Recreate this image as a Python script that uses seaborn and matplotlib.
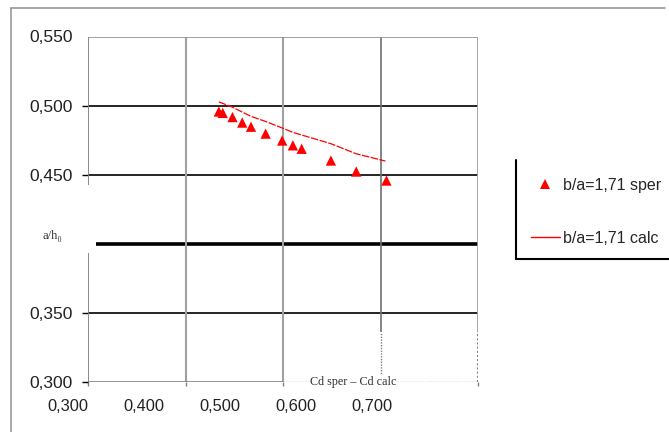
"""Recreate the scanned a/h0 vs Cd chart (b/a = 1,71)."""
import matplotlib
matplotlib.use("Agg")
import matplotlib.pyplot as plt
import pandas as pd
import seaborn as sns
from matplotlib.lines import Line2D

# measured points (b/a = 1,71 sper)
cd_sper = [0.434, 0.438, 0.448, 0.458, 0.467, 0.482, 0.499, 0.510, 0.519, 0.549, 0.575, 0.606]
ah_sper = [0.496, 0.495, 0.492, 0.488, 0.485, 0.480, 0.475, 0.4715, 0.469, 0.4605, 0.4525, 0.446]

# calculated curve (b/a = 1,71 calc)
cd_calc = [0.434, 0.4475, 0.467, 0.482, 0.499, 0.510, 0.549, 0.575, 0.605]
ah_calc = [0.503, 0.4993, 0.4925, 0.4888, 0.4841, 0.4809, 0.4727, 0.4654, 0.4601]

x_ticks = [0.3, 0.4, 0.5, 0.6, 0.7]
x_labels = ["0,300", "0,400", "0,500", "0,600", "0,700"]
y_ticks = [0.30, 0.35, 0.45, 0.50]
y_labels = ["0,300", "0,350", "0,450", "0,500"]
series_labels = ["b/a=1,71 sper", "b/a=1,71 calc"]

GRID_GREY = "#808080"
LIGHT_GREY = "#a0a0a0"
SANS = ["Liberation Sans", "DejaVu Sans"]
SERIF = ["Liberation Serif", "DejaVu Serif"]


def main() -> None:
    sns.set_theme(style="white")
    plt.rcParams["font.family"] = SANS

    sper = pd.DataFrame({"cd": cd_sper, "ah": ah_sper})
    calc = pd.DataFrame({"cd": cd_calc, "ah": ah_calc})

    fig = plt.figure(figsize=(6.69, 4.32), dpi=100)

    # x tick labels sit offset from the ticks in the scan: separate label strip
    lab = fig.add_axes([68 / 669, 0.1157, 304 / 669, 0.01])
    lab.set_xlim(0.3, 0.7)
    lab.patch.set_visible(False)
    lab.set_yticks([])
    for sp in lab.spines.values():
        sp.set_visible(False)
    lab.set_xticks(x_ticks)
    lab.set_xticklabels(x_labels, fontsize=11.8, color="#222222")
    lab.tick_params(axis="x", bottom=True, length=0, pad=12.5)

    ax = fig.add_axes([0.132, 0.1157, 0.5825, 0.7986])
    ax.set_xlim(0.3, 0.7)
    ax.set_ylim(0.3, 0.55)
    ax.patch.set_visible(False)
    for sp in ax.spines.values():
        sp.set_visible(False)

    # grid / frame pieces, as in the scanned original
    for y in (0.5, 0.45, 0.35):
        ax.axhline(y, color="black", lw=1.2, zorder=1)
    ax.hlines(0.4, 0.3079, 0.7, color="black", lw=2.6, zorder=1)
    ax.axvline(0.4, color=LIGHT_GREY, lw=1.5, zorder=1)
    ax.axvline(0.5, color=LIGHT_GREY, lw=1.5, zorder=1)
    ax.vlines(0.6, 0.336, 0.55, color="#707070", lw=1.2, zorder=1)
    ax.vlines(0.6, 0.3, 0.336, color=GRID_GREY, lw=1.0, ls=(0, (1, 1)), zorder=1)
    ax.vlines(0.7, 0.336, 0.55, color=LIGHT_GREY, lw=2.0, zorder=1)
    ax.vlines(0.7, 0.3, 0.336, color=GRID_GREY, lw=1.5, ls=(0, (1, 1)), zorder=1)
    ax.hlines(0.55, 0.3, 0.7, color="#909090", lw=1.2, zorder=1)
    ax.vlines(0.3, 0.443, 0.55, color=GRID_GREY, lw=1.3, zorder=1)
    ax.vlines(0.3, 0.3, 0.3937, color=GRID_GREY, lw=1.3, zorder=1)
    ax.hlines(0.3, 0.3, 0.5, color=GRID_GREY, lw=1.2, zorder=1)
    ax.hlines(0.3, 0.5, 0.7, color=GRID_GREY, lw=1.0, ls=(0, (1, 1)), zorder=1)

    sns.lineplot(data=calc, x="cd", y="ah", ax=ax, color="red", lw=0.9,
                 linestyle=(0, (6, 1.2)), sort=False, zorder=3)
    sns.scatterplot(data=sper, x="cd", y="ah", ax=ax, color="red", marker="^",
                    s=55, edgecolor="none", zorder=4)
    ax.set_xlabel("")
    ax.set_ylabel("")

    ax.set_yticks(y_ticks)
    ax.set_yticklabels(y_labels, fontsize=12.5, color="#222222")
    ax.tick_params(axis="y", left=True, length=4.3, width=1.0, color="black",
                   pad=6.9)
    # top label has no tick mark in the original
    ax.text(-0.039, 0.55, "0,550", transform=ax.get_yaxis_transform(),
            fontsize=12.5, color="#222222", ha="right", va="center")
    ax.set_xticks(x_ticks)
    ax.set_xticklabels([""] * len(x_ticks))
    ax.tick_params(axis="x", bottom=True, length=3, width=1.0, color=GRID_GREY)

    ax.text(0.2628, 0.4057, "a/h\u2080", fontsize=9, family=SERIF,
            ha="center", va="center", color="#333333", clip_on=False)
    ax.text(0.5272, 0.3, "Cd sper \u2013 Cd calc", fontsize=8.7, family=SERIF,
            ha="left", va="center", color="#333333",
            bbox=dict(facecolor="white", edgecolor="none", pad=0.5), zorder=5)

    # outer frame of the page and of the legend block
    fig.add_artist(Line2D([0.0164, 0.994], [0.9815, 0.9815], color="#999999", lw=1.2))
    fig.add_artist(Line2D([0.0164, 0.0164], [0.0, 0.9815], color="#999999", lw=1.2))
    fig.add_artist(Line2D([0.7713, 0.7713], [0.6296, 0.4005], color="black", lw=1.5))
    fig.add_artist(Line2D([0.7713, 1.0], [0.4005, 0.4005], color="black", lw=1.5))

    handles = [
        Line2D([], [], color="red", marker="^", ls="none", markersize=7,
               markeredgewidth=0),
        Line2D([], [], color="red", lw=1.0),
    ]
    fig.legend(handles, series_labels, loc="upper left",
               bbox_to_anchor=(0.7935, 0.588), frameon=False, fontsize=11.5,
               handlelength=1.8, handletextpad=0.2, labelspacing=2.35,
               borderpad=0, borderaxespad=0)

    fig.savefig("out.png", dpi=100)
    plt.close(fig)


if __name__ == "__main__":
    main()
